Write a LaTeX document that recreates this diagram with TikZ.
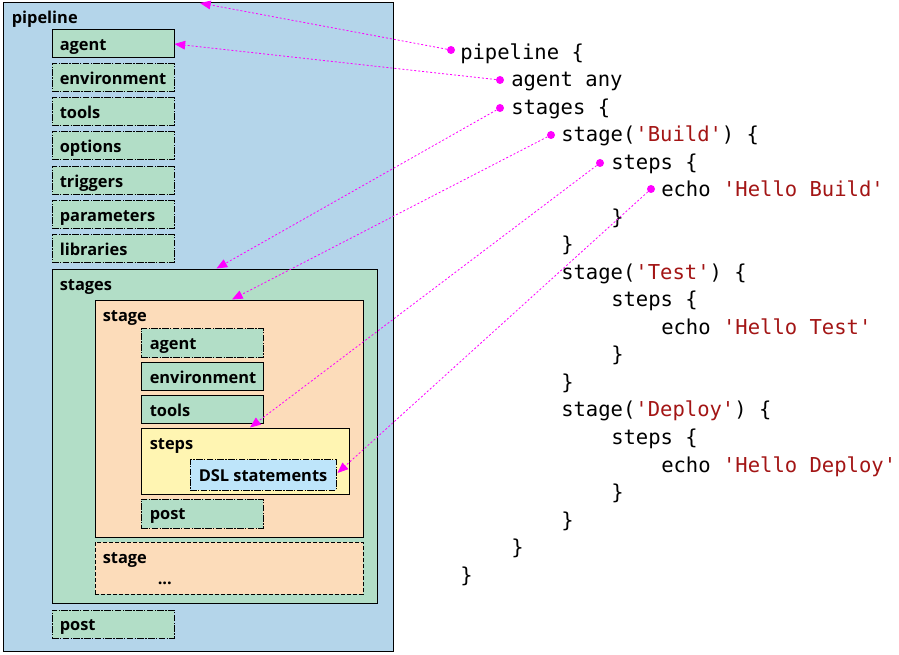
\documentclass[tikz,border=0pt]{standalone}
\usepackage{fontspec}
\setmainfont{Open Sans}
\setmonofont{DejaVu Sans Mono}
\usetikzlibrary{arrows.meta,fit,calc}
\definecolor{pipeblue}{RGB}{180,213,234}
\definecolor{boxgreen}{RGB}{178,222,199}
\definecolor{stageorange}{RGB}{252,220,186}
\definecolor{stepyellow}{RGB}{255,245,178}
\definecolor{dslblue}{RGB}{190,229,250}
\definecolor{codered}{RGB}{163,21,21}
\definecolor{linkmag}{RGB}{255,0,255}
\newcommand\mybox[4]{\node[fit={(#2) (#3)}, inner sep=0pt, #4] (#1) {};}
\begin{document}
\begin{tikzpicture}[x=0.75pt,y=-0.75pt,
  frame/.style={draw=black, line width=0.75pt},
  dashdot/.style={dash pattern=on 5pt off 1pt on 1pt off 1pt},
  plaindash/.style={dash pattern=on 3pt off 1.5pt},
  gsolid/.style={frame, fill=boxgreen},
  gdash/.style={frame, dashdot, fill=boxgreen},
  lbl/.style={font=\fontsize{12.3}{14}\selectfont\bfseries, inner sep=0pt, anchor=base west},
  code/.style={font=\fontsize{15.4}{18}\ttfamily, inner sep=0pt, anchor=base west},
  dotm/.style={circle, fill=linkmag, inner sep=0pt, minimum size=6pt},
  link/.style={draw=linkmag, line width=0.6pt, dash pattern=on 1.5pt off 1.5pt, -{Triangle[length=8pt,width=6.5pt,fill=linkmag]}}
]
\useasboundingbox[fill=white] (0,0) rectangle (899,655);
% pipeline
\mybox{pipeline}{3,3}{393,651}{frame, fill=pipeblue}
\node[lbl] (pipelineL) at ($(pipeline.north west)+(9,21.5)$) {pipeline};
% top-level directives
\mybox{agent}{52,30}{174,58}{gsolid}
\mybox{env}{52,64}{174,92}{gdash}
\mybox{tools}{52,98}{174,126}{gdash}
\mybox{options}{52,132}{174,160}{gdash}
\mybox{triggers}{52,167}{174,195}{gdash}
\mybox{params}{52,201}{174,229}{gdash}
\mybox{libs}{52,235}{174,263}{gdash}
\foreach \n/\t in {agent/agent, env/environment, tools/tools, options/options, triggers/triggers, params/parameters, libs/libraries}
  \node[lbl] (\n L) at ($(\n.north west)+(8,21)$) {\t};
% stages
\mybox{stages}{52,270}{377,603}{gsolid}
\node[lbl] (stagesL) at ($(stages.north west)+(8,21.5)$) {stages};
\mybox{stage}{95,301}{363,537}{frame, fill=stageorange}
\node[lbl] (stageL) at ($(stage.north west)+(8,21.5)$) {stage};
\mybox{sagent}{141,329}{263,358}{gdash}
\mybox{senv}{141,363}{263,391}{gsolid}
\mybox{stools}{141,396}{263,424}{gsolid}
\mybox{spost}{141,499}{263,528}{gdash}
\foreach \n/\t in {sagent/agent, senv/environment, stools/tools, spost/post}
  \node[lbl] (\n L) at ($(\n.north west)+(9,21)$) {\t};
\mybox{steps}{141,429}{349,494}{frame, fill=stepyellow}
\node[lbl] (stepsL) at ($(steps.north west)+(9,21.5)$) {steps};
\mybox{dsl}{190,460}{336,490}{frame, dashdot, fill=dslblue}
\node[lbl] (dslL) at ($(dsl.north west)+(9,22)$) {DSL statements};
\mybox{stage2}{95,542}{363,594}{frame, plaindash, fill=stageorange}
\node[lbl] (stage2L) at ($(stage2.north west)+(8,21.5)$) {stage};
\node[lbl] (stage2D) at ($(stage2.north west)+(63,43)$) {...};
\mybox{post}{52,610}{174,638}{gdash}
\node[lbl] (postL) at ($(post.north west)+(8,21)$) {post};
% code
\node[code] (c0) at (460,59.5) {pipeline \{};
\node[code] (c1) at (511,87) {agent any};
\node[code] (c2) at (511,114.5) {stages \{};
\node[code] (c3) at (561,142) {stage(\textcolor{codered}{'Build'}) \{};
\node[code] (c4) at (611,169.5) {steps \{};
\node[code] (c5) at (661,197) {echo \textcolor{codered}{'Hello Build'}};
\node[code] (c6) at (611,224.5) {\}};
\node[code] (c7) at (561,252) {\}};
\node[code] (c8) at (561,279.5) {stage(\textcolor{codered}{'Test'}) \{};
\node[code] (c9) at (611,307) {steps \{};
\node[code] (c10) at (661,334.5) {echo \textcolor{codered}{'Hello Test'}};
\node[code] (c11) at (611,362) {\}};
\node[code] (c12) at (561,389.5) {\}};
\node[code] (c13) at (561,417) {stage(\textcolor{codered}{'Deploy'}) \{};
\node[code] (c14) at (611,444.5) {steps \{};
\node[code] (c15) at (661,472) {echo \textcolor{codered}{'Hello Deploy'}};
\node[code] (c16) at (611,499.5) {\}};
\node[code] (c17) at (561,527) {\}};
\node[code] (c18) at (511,554.5) {\}};
\node[code] (c19) at (460,582) {\}};
% dots
\node[dotm] (d0) at (451,50) {};
\node[dotm] (d1) at (500,80) {};
\node[dotm] (d2) at (500,108) {};
\node[dotm] (d3) at (551,135) {};
\node[dotm] (d4) at (600,163) {};
\node[dotm] (d5) at (651,189) {};
\coordinate (tpipe) at (200,3);
% links
\draw[link] (d0) -- (tpipe);
\draw[link] (d1) -- (agent.east);
\draw[link] (d2) -- ($(stages.north)+(2,-1)$);
\draw[link] (d3) -- ($(stage.north)+(3,-1)$);
\draw[link] (d4) -- ($(steps.north)+(5,-1)$);
\draw[link] (d5) -- ($(dsl.east)+(1,-2)$);
\end{tikzpicture}
\end{document}
